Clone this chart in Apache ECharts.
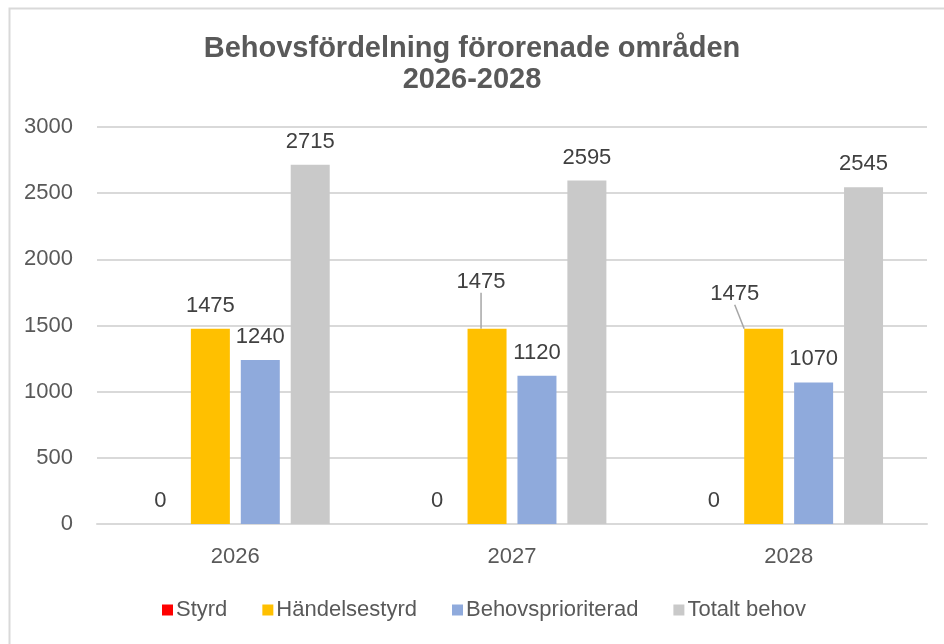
<!DOCTYPE html>
<html>
<head>
<meta charset="utf-8">
<script src="https://cdn.jsdelivr.net/npm/echarts@6/dist/echarts.min.js"></script>
<style>
html,body{margin:0;padding:0;background:#fff;}
#chart{width:944px;height:644px;}
</style>
</head>
<body>
<div id="chart"></div>
<script>
const categories = ['2026', '2027', '2028'];
const seriesNames = ['Styrd', 'Händelsestyrd', 'Behovsprioriterad', 'Totalt behov'];
const styrd = [0, 0, 0];
const handelsestyrd = [1475, 1475, 1475];
const behovsprioriterad = [1240, 1120, 1070];
const totaltBehov = [2715, 2595, 2545];
const yTicks = [0, 500, 1000, 1500, 2000, 2500, 3000];

const colors = ['#FF0000', '#FFC000', '#8FAADC', '#C9C9C9'];
const font = 'Liberation Sans';
const labelStyle = {show: true, position: 'top', distance: 12, fontSize: 22, color: '#404040', fontFamily: font};

const chart = echarts.init(document.getElementById('chart'));
const values = [styrd, handelsestyrd, behovsprioriterad, totaltBehov];
chart.setOption({
  animation: false,
  backgroundColor: '#fff',
  graphic: [{
    type: 'rect', left: 7, top: 6, shape: {x: 0, y: 0, width: 1000, height: 1000},
    style: {fill: 'none', stroke: '#d9d9d9', lineWidth: 2}, silent: true
  }],
  title: {
    text: 'Behovsfördelning förorenade områden\n2026-2028',
    left: 'center', top: 28, padding: [5, 0, 5, 12],
    textStyle: {fontFamily: 'Liberation Sans', fontWeight: 'bold', fontSize: 29, lineHeight: 31, color: '#595959'}
  },
  legend: {
    data: seriesNames,
    left: 157, top: 594,
    icon: 'rect', itemWidth: 11, itemHeight: 11, itemGap: 35,
    textStyle: {fontSize: 22, color: '#595959', fontFamily: font, padding: [0, 0, 0, -2]}
  },
  grid: {left: 97, right: 17, top: 127, bottom: 120, containLabel: false},
  xAxis: {
    type: 'category', data: categories,
    axisLine: {lineStyle: {color: '#d9d9d9', width: 2}},
    axisTick: {show: false},
    axisLabel: {fontSize: 22, color: '#595959', fontFamily: font, margin: 22}
  },
  yAxis: {
    type: 'value', min: yTicks[0], max: yTicks[yTicks.length - 1], interval: yTicks[1] - yTicks[0],
    axisLine: {show: false}, axisTick: {show: false},
    splitLine: {lineStyle: {color: '#d9d9d9', width: 2}},
    axisLabel: {fontSize: 22, color: '#595959', fontFamily: font, margin: 24, formatter: v => String(v)}
  },
  series: seriesNames.map((name, i) => {
    const s = {
      name: name, type: 'bar',
      data: values[i].map((v, j) => (i === 1 && j === 0) ? {value: v, labelLine: {show: false}} : v),
      barWidth: 39, barGap: '28%',
      itemStyle: {color: colors[i]},
      label: Object.assign({}, labelStyle)
    };
    if (i === 1) {
      s.labelLine = {show: true, lineStyle: {color: '#a6a6a6', width: 1.5}};
      s.labelLayout = function (p) {
        if (p.dataIndex === 1) return {dx: -6, dy: -24};
        if (p.dataIndex === 2) return {dx: -29, dy: -12};
        return {};
      };
    }
    return s;
  })
});
</script>
</body>
</html>
